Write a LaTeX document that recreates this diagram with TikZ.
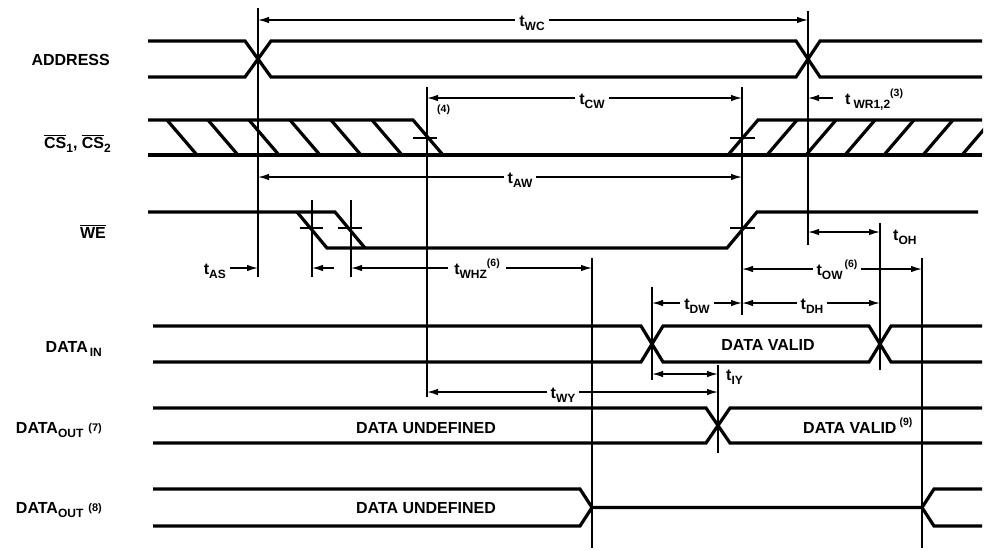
\documentclass[tikz,border=0pt]{standalone}
\usepackage{fontspec}
\setmainfont{Liberation Sans}
\usetikzlibrary{arrows.meta}
\newcommand\sbs[1]{\raisebox{-0.55ex}{\fontsize{12}{12}\selectfont #1}}
\newcommand\sps[1]{\raisebox{0.85ex}{\fontsize{10.5}{10.5}\selectfont #1}}
\newcommand\nsup[1]{\raisebox{0.2ex}{\fontsize{11}{11}\selectfont #1}}
\newcommand\tlab[1]{t\sbs{#1}}
\newcommand\ovl[1]{$\overline{\mbox{#1}}$}
\begin{document}
\begin{tikzpicture}[x=1pt,y=-1pt,
  every node/.style={font=\fontsize{16}{18}\selectfont\bfseries},
  sig/.style={line width=3.2pt},
  guide/.style={line width=1.7pt},
  tickmark/.style={line width=1.7pt},
  dimr/.style={line width=1.4pt,-{Latex[length=11pt,width=6.5pt]}},
  dimb/.style={line width=1.4pt,{Latex[length=11pt,width=6.5pt]}-{Latex[length=11pt,width=6.5pt]}},
  tlbl/.style={fill=white,inner xsep=4pt,inner ysep=1pt,anchor=base},
  tside/.style={inner sep=0pt},
  signame/.style={anchor=base east,inner sep=0pt},
  dtext/.style={anchor=base,inner sep=0pt}]
\useasboundingbox[fill=white] (0,0) rectangle (984,550);

% ---------- signal names ----------
\node[signame] (nAddr) at (110,65) {ADDRESS};
\node[signame] (nCS) at (111,148) {\ovl{CS}\sbs{1}, \ovl{CS}\sbs{2}};
\node[signame] (nWE) at (106,238) {\ovl{WE}};
\node[signame] (nDin) at (102,352) {DATA\kern2pt\sbs{IN}};
\node[signame] (nDo7) at (102,433) {DATA\sbs{OUT}\kern5pt\nsup{(7)}};
\node[signame] (nDo8) at (102,513) {DATA\sbs{OUT}\kern5pt\nsup{(8)}};

% ---------- ADDRESS ----------
\draw[sig] (148,41) -- (245,41) -- (271,77) -- (796,77) -- (820,41) -- (982,41);
\draw[sig] (148,77) -- (245,77) -- (271,41) -- (796,41) -- (820,77) -- (982,77);

% ---------- CS ----------
\draw[sig] (148,120) -- (413,120) -- (443,155);
\draw[sig] (148,155) -- (982,155);
\draw[sig] (728,155) -- (758,120) -- (982,120);
\foreach \x in {167,208,249,290,331,372} \draw[sig] (\x,120) -- (\x+30,155);
\begin{scope}
\clip (700,100) rectangle (983,170);
\foreach \x in {767,806,845,884,923,962} \draw[sig] (\x,155) -- (\x+30,120);
\end{scope}
\draw[tickmark] (413,138) -- (437,138);
\draw[tickmark] (730,138) -- (755,138);

% ---------- WE ----------
\draw[sig] (148,212) -- (335,212) -- (365,248);
\draw[sig] (297,212) -- (327,248) -- (727,248) -- (757,212) -- (978,212);
\draw[tickmark] (300,228) -- (323,228);
\draw[tickmark] (338,228) -- (362,228);
\draw[tickmark] (730,228) -- (755,228);

% ---------- DATA IN ----------
\draw[sig] (153,326) -- (641,326) -- (663,362) -- (869,362) -- (891,326) -- (982,326);
\draw[sig] (153,362) -- (641,362) -- (663,326) -- (869,326) -- (891,362) -- (982,362);
\node[dtext] (dvin) at (768,350) {DATA VALID};

% ---------- DATA OUT (7) ----------
\draw[sig] (153,408) -- (706,408) -- (730,443) -- (982,443);
\draw[sig] (153,443) -- (706,443) -- (730,408) -- (982,408);
\node[dtext] (du7) at (426,433) {DATA UNDEFINED};
\node[dtext,anchor=base west] (dv7) at (803,433) {DATA VALID\kern3pt\sps{(9)}};

% ---------- DATA OUT (8) ----------
\draw[sig] (153,489) -- (580,489) -- (592,507.5) -- (922,507.5) -- (934,489) -- (982,489);
\draw[sig] (153,526) -- (580,526) -- (592,507.5);
\draw[sig] (922,507.5) -- (934,526) -- (982,526);
\node[dtext] (du8) at (426,513) {DATA UNDEFINED};

% ---------- vertical reference lines ----------
\coordinate (vA1) at (258,8);   \coordinate (vA2) at (258,277);
\coordinate (vB1) at (808,11);  \coordinate (vB2) at (808,245);
\coordinate (vC1) at (427,87);  \coordinate (vC2) at (427,397);
\coordinate (vD1) at (742,87);  \coordinate (vD2) at (742,315);
\coordinate (vE1) at (312,200); \coordinate (vE2) at (312,277);
\coordinate (vF1) at (351,200); \coordinate (vF2) at (351,277);
\coordinate (vG1) at (592,258); \coordinate (vG2) at (592,548);
\coordinate (vH1) at (922,258); \coordinate (vH2) at (922,548);
\coordinate (vI1) at (880,223); \coordinate (vI2) at (880,370);
\coordinate (vJ1) at (652,287); \coordinate (vJ2) at (652,380);
\coordinate (vK1) at (718,365); \coordinate (vK2) at (718,453);
\foreach \v in {A,B,C,D,E,F,G,H,I,J,K} \draw[guide] (v\v1) -- (v\v2);

% ---------- dimension arrows ----------
\coordinate (wcL) at (258,20);  \coordinate (wcR) at (808,20);
\coordinate (cwL) at (427,98);  \coordinate (cwR) at (742,98);
\coordinate (wrT) at (833,98);  \coordinate (wrH) at (808,98);
\coordinate (awL) at (258,177); \coordinate (awR) at (742,177);
\coordinate (asT) at (230,268); \coordinate (asH) at (258,268);
\coordinate (as2T) at (334,268); \coordinate (as2H) at (312,268);
\coordinate (whL) at (351,268); \coordinate (whR) at (592,268);
\coordinate (ohL) at (808,232); \coordinate (ohR) at (880,232);
\coordinate (owL) at (742,269); \coordinate (owR) at (922,269);
\coordinate (dwL) at (652,303); \coordinate (dwR) at (742,303);
\coordinate (dhL) at (742,303); \coordinate (dhR) at (880,303);
\coordinate (iyL) at (652,374); \coordinate (iyR) at (718,374);
\coordinate (wyL) at (427,392); \coordinate (wyR) at (718,392);

\draw[dimb] (wcL) -- (wcR);
\draw[dimb] (cwL) -- (cwR);
\draw[dimr] (wrT) -- (wrH);
\draw[dimb] (awL) -- (awR);
\draw[dimr] (asT) -- (asH);
\draw[dimr] (as2T) -- (as2H);
\draw[dimb] (whL) -- (whR);
\draw[dimb] (ohL) -- (ohR);
\draw[dimb] (owL) -- (owR);
\draw[dimb] (dwL) -- (dwR);
\draw[dimb] (dhL) -- (dhR);
\draw[dimb] (iyL) -- (iyR);
\draw[dimb] (wyL) -- (wyR);

\node[tlbl] (lwc) at (532,26) {\tlab{WC}};
\node[tlbl] (lcw) at (592,104) {\tlab{CW}};
\node[tside,anchor=base west] (lwr) at (845,104) {t\kern3pt\sbs{WR1,2}\sps{(3)}};
\node[tside,anchor=base west] (l4) at (437,112) {\fontsize{10.5}{10.5}\selectfont (4)};
\node[tlbl] (law) at (520,183) {\tlab{AW}};
\node[tside,anchor=base east] (las) at (226,274) {\tlab{AS}};
\node[tlbl,inner xsep=6pt] (lwhz) at (477,274) {\tlab{WHZ}\sps{(6)}};
\node[tside,anchor=base west] (loh) at (893,240) {\tlab{OH}};
\node[tlbl] (low) at (837,275) {\tlab{OW}\kern2pt\sps{(6)}};
\node[tlbl] (ldw) at (697,309) {\tlab{DW}};
\node[tlbl] (ldh) at (812,309) {\tlab{DH}};
\node[tside,anchor=base west] (liy) at (726,380) {\tlab{IY}};
\node[tlbl] (lwy) at (563,398) {\tlab{WY}};
\end{tikzpicture}
\end{document}
